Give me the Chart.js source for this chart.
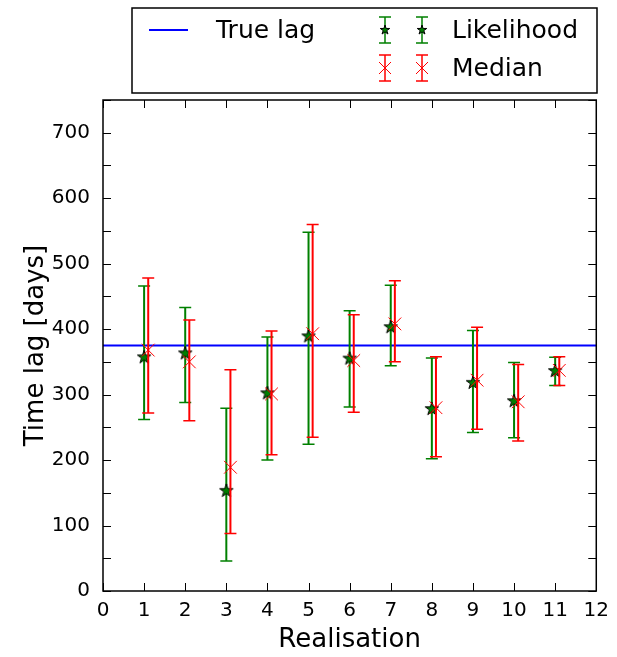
<!DOCTYPE html>
<html>
<head>
<meta charset="utf-8">
<title>Time lag per realisation</title>
<script src="https://cdn.jsdelivr.net/npm/chart.js@4.4.1/dist/chart.umd.min.js"></script>
<style>
  html, body { margin: 0; padding: 0; background: #fff; }
  #wrap { width: 617px; height: 657px; }
</style>
</head>
<body>
<div id="wrap"><canvas id="lagChart" width="617" height="657"></canvas></div>
<script>
// realisations and recovered lags (days)
const realisations = [1, 2, 3, 4, 5, 6, 7, 8, 9, 10, 11];
const likeValue = [357, 363, 153, 302, 389, 355, 403, 278, 318, 290, 336];
const likeLow   = [262, 288,  46, 200, 224, 281, 344, 202, 242, 234, 314];
const likeHigh  = [466, 433, 279, 388, 548, 428, 467, 356, 398, 349, 357];
const medValue  = [368, 350, 189, 301, 393, 352, 408, 280, 322, 289, 337];
const medLow    = [272, 260,  88, 208, 235, 273, 350, 205, 247, 229, 314];
const medHigh   = [478, 414, 338, 397, 560, 422, 474, 358, 403, 346, 358];
const trueLag = 375;
const medShift = 0.1;   // median points sit a little right of each realisation

const xTicks = [0, 1, 2, 3, 4, 5, 6, 7, 8, 9, 10, 11, 12];
const yTicks = [0, 50, 100, 150, 200, 250, 300, 350, 400, 450, 500, 550, 600, 650, 700, 750];

const GREEN = '#008000';
const RED = '#ff0000';
const BLUE = '#0000ff';
const FONT = "'DejaVu Sans', sans-serif";

// filled five-point star used as the likelihood marker
function makeStar(size, outer) {
    const c = document.createElement('canvas');
    c.width = size; c.height = size;
    const g = c.getContext('2d');
    const cx = size / 2, cy = size / 2, inner = outer * 0.382;
    g.beginPath();
    for (let i = 0; i < 10; i++) {
        const r = i % 2 === 0 ? outer : inner;
        const ang = -Math.PI / 2 + i * Math.PI / 5;
        const px = cx + r * Math.cos(ang), py = cy + r * Math.sin(ang);
        if (i === 0) g.moveTo(px, py); else g.lineTo(px, py);
    }
    g.closePath();
    g.fillStyle = GREEN;
    g.fill();
    g.lineWidth = 1;
    g.strokeStyle = '#000';
    g.stroke();
    return c;
}
const starBig = makeStar(16, 7);
const starSmall = makeStar(12, 5);

// vertical error bars with caps, drawn just before each dataset's markers
const errorBars = {
    id: 'errorBars',
    beforeDatasetDraw(chart, args) {
        const ds = chart.data.datasets[args.index];
        if (!ds.errLow) return;
        const { ctx } = chart;
        const y = chart.scales.y;
        ctx.save();
        ctx.strokeStyle = ds.errColor;
        args.meta.data.forEach((pt, i) => {
            const top = y.getPixelForValue(ds.errHigh[i]);
            const bot = y.getPixelForValue(ds.errLow[i]);
            ctx.lineWidth = 2;
            ctx.beginPath();
            ctx.moveTo(pt.x, top); ctx.lineTo(pt.x, bot);
            ctx.stroke();
            ctx.lineWidth = 1.5;
            ctx.beginPath();
            ctx.moveTo(pt.x - 6, top); ctx.lineTo(pt.x + 6, top);
            ctx.moveTo(pt.x - 6, bot); ctx.lineTo(pt.x + 6, bot);
            ctx.stroke();
        });
        ctx.restore();
    }
};

// box frame with inward ticks on all four sides
const frameTicks = {
    id: 'frameTicks',
    afterDraw(chart) {
        const { ctx, chartArea: a } = chart;
        const { x, y } = chart.scales;
        const len = 8;
        ctx.save();
        ctx.strokeStyle = '#000';
        ctx.lineWidth = 1;
        ctx.beginPath();
        xTicks.forEach(v => {
            const px = Math.round(x.getPixelForValue(v)) + 0.5;
            ctx.moveTo(px, a.bottom); ctx.lineTo(px, a.bottom - len);
            ctx.moveTo(px, a.top); ctx.lineTo(px, a.top + len);
        });
        yTicks.forEach(v => {
            const py = Math.round(y.getPixelForValue(v)) + 0.5;
            ctx.moveTo(a.left, py); ctx.lineTo(a.left + len, py);
            ctx.moveTo(a.right, py); ctx.lineTo(a.right - len, py);
        });
        ctx.stroke();
        ctx.lineWidth = 1.5;
        ctx.strokeRect(a.left, a.top, a.right - a.left, a.bottom - a.top);
        ctx.restore();
    }
};

// two-column legend box above the axes
function drawErrSymbol(ctx, cx, cy, color, marker) {
    ctx.strokeStyle = color;
    ctx.lineWidth = 1.5;
    ctx.beginPath();
    ctx.moveTo(cx, cy - 13); ctx.lineTo(cx, cy + 13);
    ctx.moveTo(cx - 6, cy - 13); ctx.lineTo(cx + 6, cy - 13);
    ctx.moveTo(cx - 6, cy + 13); ctx.lineTo(cx + 6, cy + 13);
    ctx.stroke();
    if (marker === 'star') {
        ctx.drawImage(starSmall, cx - 6, cy - 6);
    } else {
        ctx.lineWidth = 1;
        ctx.beginPath();
        ctx.moveTo(cx - 6, cy - 6); ctx.lineTo(cx + 6, cy + 6);
        ctx.moveTo(cx + 6, cy - 6); ctx.lineTo(cx - 6, cy + 6);
        ctx.stroke();
    }
}

const boxLegend = {
    id: 'boxLegend',
    afterDraw(chart) {
        const { ctx } = chart;
        ctx.save();
        ctx.strokeStyle = '#000';
        ctx.lineWidth = 1.5;
        ctx.strokeRect(132, 8, 465, 85);
        ctx.strokeStyle = BLUE;
        ctx.lineWidth = 2;
        ctx.beginPath();
        ctx.moveTo(149, 30); ctx.lineTo(188, 30);
        ctx.stroke();
        drawErrSymbol(ctx, 385, 30, GREEN, 'star');
        drawErrSymbol(ctx, 422, 30, GREEN, 'star');
        drawErrSymbol(ctx, 385, 68, RED, 'x');
        drawErrSymbol(ctx, 422, 68, RED, 'x');
        ctx.fillStyle = '#000';
        ctx.font = '25px ' + FONT;
        ctx.textBaseline = 'middle';
        ctx.fillText('True lag', 216, 31);
        ctx.fillText('Likelihood', 452, 31);
        ctx.fillText('Median', 452, 69);
        ctx.restore();
    }
};

document.addEventListener('DOMContentLoaded', function() {
    const ctx = document.getElementById('lagChart');
    new Chart(ctx.getContext('2d'), {
        type: 'scatter',
        data: {
            datasets: [{
                type: 'line',
                label: 'True lag',
                data: [{ x: xTicks[0], y: trueLag }, { x: xTicks[xTicks.length - 1], y: trueLag }],
                borderColor: BLUE,
                borderWidth: 2,
                pointRadius: 0,
                order: 3
            }, {
                label: 'Likelihood',
                data: realisations.map((r, i) => ({ x: r, y: likeValue[i] })),
                errLow: likeLow,
                errHigh: likeHigh,
                errColor: GREEN,
                pointStyle: starBig,
                order: 2
            }, {
                label: 'Median',
                data: realisations.map((r, i) => ({ x: r + medShift, y: medValue[i] })),
                errLow: medLow,
                errHigh: medHigh,
                errColor: RED,
                pointStyle: 'crossRot',
                pointRadius: 9,
                borderColor: RED,
                borderWidth: 1,
                order: 1
            }]
        },
        options: {
            responsive: false,
            animation: false,
            layout: { padding: { left: 17, right: 20, top: 100, bottom: 0 } },
            plugins: {
                legend: { display: false },
                tooltip: { enabled: false }
            },
            scales: {
                x: {
                    type: 'linear',
                    min: 0,
                    max: 12,
                    grid: { display: false, drawTicks: false },
                    border: { display: false },
                    ticks: { stepSize: 1, padding: 8, color: '#000', font: { family: FONT, size: 20 } },
                    title: { display: true, text: 'Realisation', color: '#000', padding: { top: 2, bottom: 1 }, font: { family: FONT, size: 26 } },
                    afterFit(scale) { scale.height = 66; }
                },
                y: {
                    min: 0,
                    max: 750,
                    grid: { display: false, drawTicks: false },
                    border: { display: false },
                    ticks: { stepSize: 100, includeBounds: false, padding: 13, color: '#000', font: { family: FONT, size: 20 } },
                    title: { display: true, text: 'Time lag [days]', color: '#000', font: { family: FONT, size: 26 } },
                    afterFit(scale) { scale.width = 86; }
                }
            }
        },
        plugins: [errorBars, frameTicks, boxLegend]
    });
});
</script>
</body>
</html>
